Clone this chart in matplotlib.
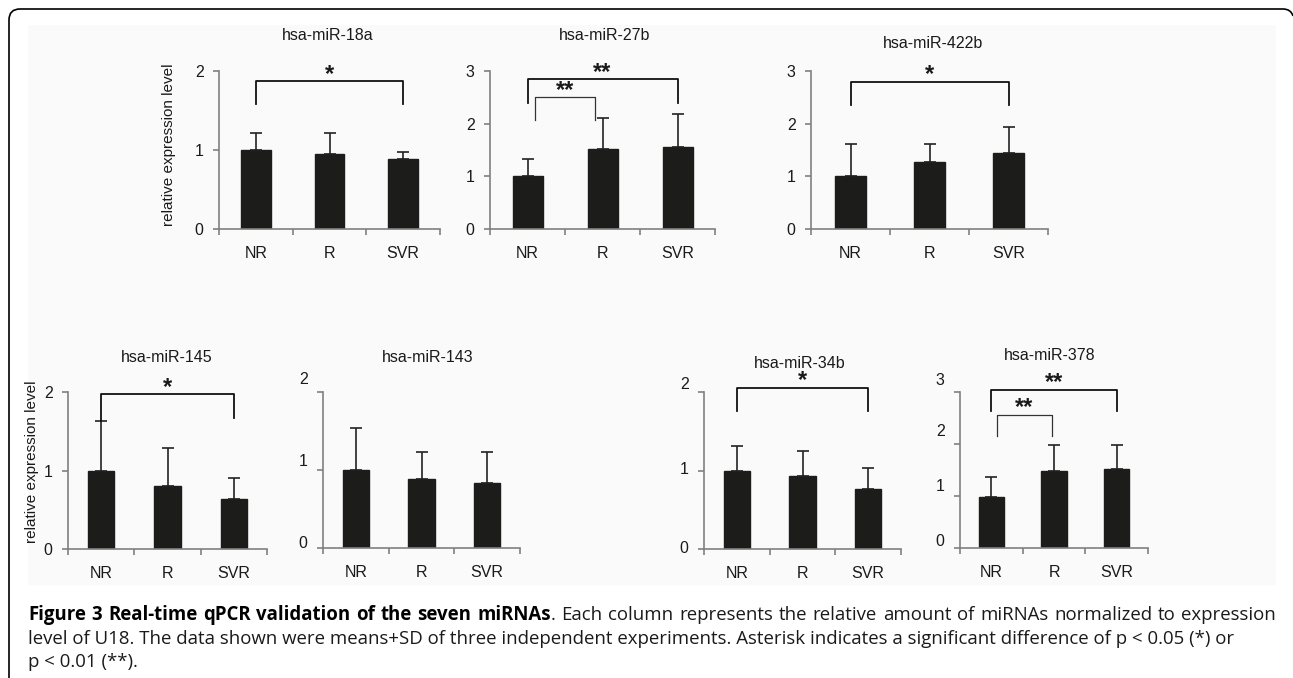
import matplotlib
matplotlib.use("Agg")
import matplotlib.pyplot as plt
import numpy as np
from matplotlib.path import Path
from matplotlib.patches import PathPatch, Rectangle
from matplotlib.transforms import ScaledTranslation

W, H = 1293, 678
DPI = 100

categories = ["NR", "R", "SVR"]

titles = ["hsa-miR-18a", "hsa-miR-27b", "hsa-miR-422b",
          "hsa-miR-145", "hsa-miR-143", "hsa-miR-34b", "hsa-miR-378"]

means_18a = [1.00, 0.95, 0.88]
sd_18a = [0.22, 0.27, 0.10]
means_27b = [1.01, 1.52, 1.56]
sd_27b = [0.31, 0.59, 0.62]
means_422b = [1.01, 1.28, 1.45]
sd_422b = [0.60, 0.33, 0.48]
means_145 = [1.00, 0.80, 0.64]
sd_145 = [0.63, 0.49, 0.27]
means_143 = [1.00, 0.89, 0.83]
sd_143 = [0.54, 0.34, 0.40]
means_34b = [1.00, 0.93, 0.77]
sd_34b = [0.31, 0.32, 0.26]
means_378 = [0.99, 1.49, 1.51]
sd_378 = [0.37, 0.50, 0.48]

y_max = [2, 3, 3, 2, 2, 2, 3]

# significance brackets: (x left, x right, level, left drop, right drop, label, thin)
sig_18a = [(0, 2, 1.87, 1.58, 1.58, "*", False)]
sig_27b = [(0, 2, 2.84, 2.40, 2.40, "**", False),
           (0.1, 0.9, 2.50, 2.07, 2.07, "**", True)]
sig_422b = [(0, 2, 2.79, 2.36, 2.36, "*", False)]
sig_145 = [(0, 2, 1.97, 1.63, 1.67, "*", False)]
sig_143 = []
sig_34b = [(0, 2, 2.05, 1.76, 1.76, "*", False)]
sig_378 = [(0, 2, 3.04, 2.63, 2.63, "**", False),
           (0.09, 0.97, 2.56, 2.15, 2.15, "**", True)]

all_means = [means_18a, means_27b, means_422b, means_145, means_143, means_34b, means_378]
all_sd = [sd_18a, sd_27b, sd_422b, sd_145, sd_143, sd_34b, sd_378]
all_sig = [sig_18a, sig_27b, sig_422b, sig_145, sig_143, sig_34b, sig_378]

caption_bold = "Figure 3 Real-time qPCR validation of the seven miRNAs"
caption_line1 = ". Each column represents the relative amount of miRNAs normalized to expression"
caption_line2 = ("level of U18. The data shown were means+SD of three independent experiments. "
                 "Asterisk indicates a significant difference of p < 0.05 (*) or")
caption_line3 = "p < 0.01 (**)."

# layout in pixels: x0, x1, y top, y bottom, title x, title y
layout = [
    (219, 440, 71, 229, 328, 35),
    (490, 715, 71, 229, 605, 35),
    (811, 1048, 71, 229, 933, 43),
    (68, 267, 392, 549, 167, 357),
    (323, 520, 392, 548, 428, 358),
    (704, 901, 392, 549, 800, 363),
    (960, 1148, 392, 548, 1050, 355),
]
# small upward shifts of y tick labels (pixels), as in the scanned figure
label_shift = [None, None, None, None, [6, 10, 14], [2, 3, 9], [8, 11, 14, 13]]

AXIS_GRAY = "#808080"
BAR_COLOR = "#1c1c1a"
TEXT = "#1a1a1a"

plt.rcParams["font.family"] = ["Liberation Sans", "DejaVu Sans"]

fig = plt.figure(figsize=(W / DPI, H / DPI), dpi=DPI)
fig.patch.set_facecolor("white")

# background / border layer
bg = fig.add_axes([0, 0, 1, 1])
bg.set_xlim(0, W)
bg.set_ylim(H, 0)
bg.axis("off")
bg.add_patch(Rectangle((28, 25), 1248, 560, facecolor="#fafafa", edgecolor="none"))
verts = [(9, H), (9, 20), (9, 9), (20, 9), (1283, 9), (1291, 9), (1293, 16)]
codes = [Path.MOVETO, Path.LINETO, Path.CURVE3, Path.CURVE3, Path.LINETO,
         Path.CURVE3, Path.CURVE3]
bg.add_patch(PathPatch(Path(verts, codes), facecolor="none", edgecolor="black", lw=1.2))

x = np.arange(len(categories))

for k in range(7):
    x0, x1, yt, yb, tx, ty = layout[k]
    ax = fig.add_axes([x0 / W, 1 - yb / H, (x1 - x0) / W, (yb - yt) / H])
    ax.patch.set_alpha(0)
    means = np.array(all_means[k])
    sd = np.array(all_sd[k])
    ax.bar(x, means, width=0.4, color=BAR_COLOR, edgecolor=BAR_COLOR,
           yerr=[np.zeros_like(sd), sd], capsize=4,
           error_kw=dict(ecolor="#222222", elinewidth=1.2, capthick=1.2), zorder=2)
    ax.set_xlim(-0.5, 2.5)
    ax.set_ylim(0, y_max[k])
    for s in ["top", "right"]:
        ax.spines[s].set_visible(False)
    for s in ["left", "bottom"]:
        ax.spines[s].set_color(AXIS_GRAY)
        ax.spines[s].set_linewidth(1.2)
    ax.set_xticks([-0.5, 0.5, 1.5, 2.5])
    ax.set_xticklabels([])
    ax.set_xticks(x, minor=True)
    ax.set_xticklabels(categories, minor=True)
    ax.tick_params(axis="x", which="major", length=4, width=1.2, color=AXIS_GRAY, direction="out")
    ax.tick_params(axis="x", which="minor", length=0, pad=12, labelsize=11.5, labelcolor=TEXT)
    ax.set_yticks(range(y_max[k] + 1))
    ax.tick_params(axis="y", length=4, width=1.2, color=AXIS_GRAY, direction="out",
                   pad=7, labelsize=11.5, labelcolor=TEXT)
    if label_shift[k] is not None:
        for lab, dy in zip(ax.get_yticklabels(), label_shift[k]):
            lab.set_transform(lab.get_transform() + ScaledTranslation(0, dy / DPI, fig.dpi_scale_trans))

    for (a, b, lev, dl, dr, lab, thin) in all_sig[k]:
        lw = 0.9 if thin else 1.3
        col = "#333333" if thin else "#111111"
        ax.plot([a, a, b, b], [dl, lev, lev, dr], color=col, lw=lw, clip_on=False, zorder=3)
        ax.annotate(lab, xy=((a + b) / 2, lev), xytext=(0, 0.5), textcoords="offset points",
                    ha="center", va="baseline", fontsize=17, fontweight="bold",
                    color=TEXT, annotation_clip=False)

    fig.text(tx / W, 1 - ty / H, titles[k], ha="center", va="center", fontsize=11.5, color=TEXT)

fig.text(169 / W, 1 - 145 / H, "relative expression level", rotation=90,
         ha="center", va="center", fontsize=11, color=TEXT)
fig.text(32 / W, 1 - 462 / H, "relative expression level", rotation=90,
         ha="center", va="center", fontsize=11, color=TEXT)

# caption, first line justified between 28 and 1276 px
cap_font = ["Open Sans", "DejaVu Sans"]
cap_size = 13.4
renderer = fig.canvas.get_renderer()
pieces = [(w, "bold", True) for w in caption_bold.split(" ")]
reg = caption_line1.split(" ")
pieces.append((reg[0], "normal", False))
pieces += [(w, "normal", True) for w in reg[1:]]
arts = []
for word, wt, _ in pieces:
    t = fig.text(0, 1 - 615 / H, word, ha="left", va="center", fontsize=cap_size,
                 fontweight=wt, family=cap_font, color="black" if wt == "bold" else TEXT)
    arts.append(t)
widths = [t.get_window_extent(renderer).width for t in arts]
n_gaps = sum(1 for p in pieces[1:] if p[2])
gap = (1276 - 28 - sum(widths)) / n_gaps
xpos = 28
for i, (t, wdt) in enumerate(zip(arts, widths)):
    if i > 0 and pieces[i][2]:
        xpos += gap
    t.set_x(xpos / W)
    xpos += wdt

fig.text(28 / W, 1 - 639 / H, caption_line2,
         ha="left", va="center", fontsize=cap_size, family=cap_font, color=TEXT)
fig.text(28 / W, 1 - 662 / H, caption_line3,
         ha="left", va="center", fontsize=cap_size, family=cap_font, color=TEXT)

fig.savefig("out.png", dpi=DPI)
